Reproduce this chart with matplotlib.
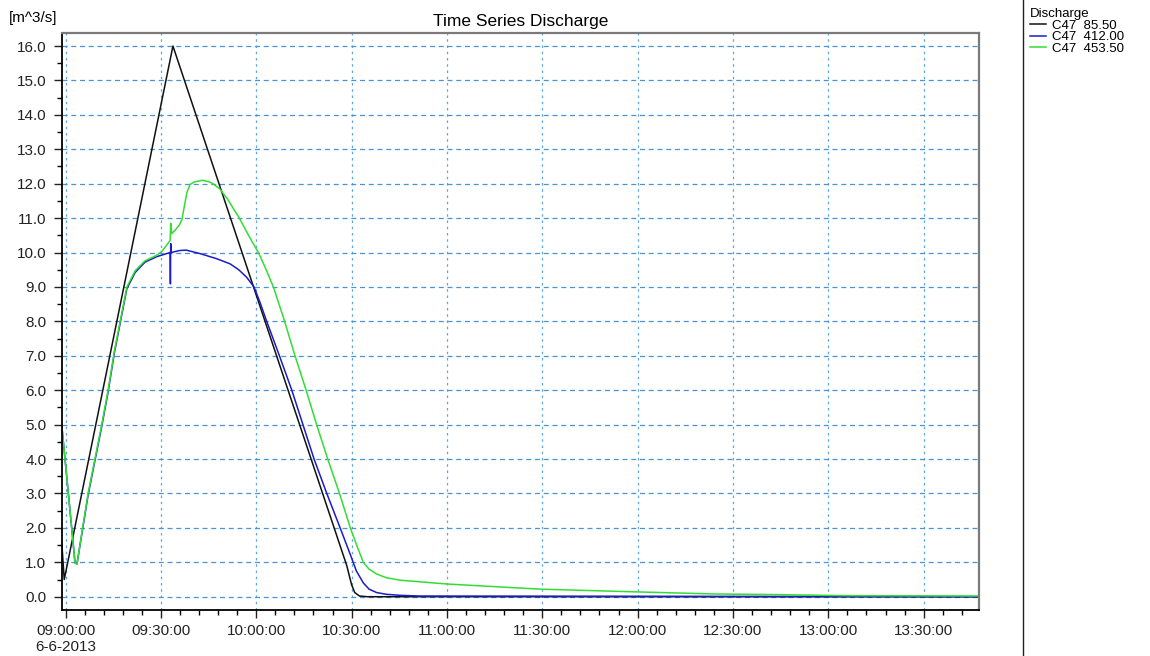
import pandas as pd
import matplotlib
matplotlib.use('Agg')
import matplotlib.pyplot as plt
import matplotlib.dates as mdates
from matplotlib.lines import Line2D
from matplotlib.ticker import MultipleLocator, FuncFormatter

plt.rcParams['font.family'] = ['Liberation Sans', 'DejaVu Sans']

START = pd.Timestamp('2013-06-06 09:00:00')

# time in minutes after 09:00, discharge in m^3/s
c47_85_t = [-1.2, -0.4, 33.8, 88.5, 90.0, 91.0, 92.5, 95.0, 287.4]
c47_85_q = [1.6, 0.5, 16.0, 0.9, 0.35, 0.12, 0.02, 0.0, 0.0]

c47_412_t = [-1.2, 3.0, 3.6, 7.1, 11.4, 13.4, 15.4, 17.2, 19.3, 21.9, 25.0, 28.7,
             32.9, 33.0, 33.1, 33.2, 36.0, 38.0, 42.3, 47.6, 51.8, 54.5, 57.0,
             59.3, 61.2, 63.3, 67.3, 71.2, 74.7, 78.2, 82.2, 86.4, 89.5, 91.5,
             93.7, 95.5, 97.9, 101.0, 105.3, 111.5, 287.4]
c47_412_q = [5.0, 0.98, 0.95, 2.95, 4.95, 5.95, 7.1, 7.95, 8.95, 9.42, 9.72, 9.88,
             10.0, 9.09, 10.26, 10.0, 10.06, 10.07, 9.97, 9.82, 9.67, 9.5, 9.28,
             9.0, 8.55, 8.0, 7.0, 6.0, 5.0, 4.0, 3.0, 2.0, 1.25, 0.75,
             0.40, 0.22, 0.12, 0.07, 0.04, 0.02, 0.0]

c47_453_t = [-1.2, 3.0, 3.6, 7.1, 11.4, 13.4, 15.4, 17.2, 19.3, 21.9, 25.0, 28.7,
             30.5, 32.9, 33.1, 33.4, 34.5, 35.8, 36.6, 37.3, 38.2, 39.2, 40.5,
             43.0, 45.0, 46.4, 48.5, 51.0, 53.0, 54.7, 57.0, 58.8, 60.7, 62.9,
             65.4, 68.6, 72.2, 75.7, 79.0, 82.5, 86.2, 89.6, 92.0, 93.7, 95.5,
             97.9, 101.0, 105.3, 119.9, 149.3, 179.7, 203.8, 224.8, 245.9, 287.4]
c47_453_q = [5.0, 0.98, 0.95, 3.0, 5.0, 6.0, 7.15, 8.0, 9.0, 9.47, 9.76, 9.92,
             10.05, 10.35, 10.85, 10.55, 10.65, 10.8, 10.95, 11.3, 11.75, 11.98, 12.05,
             12.1, 12.06, 12.0, 11.85, 11.55, 11.25, 11.0, 10.6, 10.3, 10.0, 9.55,
             9.0, 8.1, 7.0, 6.0, 5.0, 4.0, 3.0, 2.0, 1.4, 1.0, 0.8,
             0.66, 0.55, 0.48, 0.37, 0.22, 0.14, 0.08, 0.06, 0.03, 0.02]

labels = ['C47  85.50', 'C47  412.00', 'C47  453.50']
colors = ['#111111', '#1c1cc8', '#33dd33']


def to_time(mins):
    return (START + pd.to_timedelta(mins, unit='m')).values


def fmt_time(x, pos):
    d = mdates.num2date(x + 0.5 / 86400)
    s = d.strftime('%H:%M:%S')
    if d.hour == 9 and d.minute == 0:
        s += '\n6-6-2013'
    return s


fig = plt.figure(figsize=(11.5, 6.56), dpi=100)
ax = fig.add_axes([61.7 / 1150, 1 - 610 / 656, (979 - 61.7) / 1150, (610 - 33.3) / 656])

series = [(c47_85_t, c47_85_q), (c47_412_t, c47_412_q), (c47_453_t, c47_453_q)]
handles = []
for (t, q), lab, col in zip(series, labels, colors):
    ln, = ax.plot(to_time(t), q, color=col, lw=1.1, label=lab)
    handles.append(ln)

ax.set_xlim(to_time([-1.2])[0], to_time([287.4])[0])
ax.set_ylim(-0.386, 16.37)

ax.xaxis.set_major_locator(mdates.MinuteLocator(byminute=[0, 30]))
ax.xaxis.set_minor_locator(mdates.MinuteLocator(byminute=range(0, 60, 6)))
ax.xaxis.set_major_formatter(FuncFormatter(fmt_time))
ax.yaxis.set_major_locator(MultipleLocator(1.0))
ax.yaxis.set_minor_locator(MultipleLocator(0.5))
ax.yaxis.set_major_formatter(FuncFormatter(lambda v, p: f'{v:.1f}'))

ax.tick_params(axis='both', which='major', length=6, width=1, labelsize=11,
               colors='#222222', pad=4)
ax.tick_params(axis='both', which='minor', length=3.5, width=1)
ax.tick_params(axis='y', which='major', pad=5)

ax.grid(True, axis='y', which='major', color='#4a94d4', lw=0.9, ls=(0, (4, 3)))
ax.grid(True, axis='x', which='major', color='#5aa8e0', lw=0.9, ls=(0, (2, 3)))

for side in ['left', 'bottom']:
    ax.spines[side].set_color('#000000')
    ax.spines[side].set_linewidth(1.3)
for side in ['top', 'right']:
    ax.spines[side].set_color('#7a7a7a')
    ax.spines[side].set_linewidth(1.6)

ax.set_title('Time Series Discharge', fontsize=12.5, pad=5)
fig.text(9 / 1150, 1 - 18 / 656, '[m^3/s]', fontsize=11, va='center', ha='left')

# separator in front of the legend panel
fig.add_artist(Line2D([1022.5 / 1150] * 2, [0, 1], transform=fig.transFigure,
                      color='#222222', lw=1.0))

fig.legend(handles=handles, loc='upper left', bbox_to_anchor=(1030 / 1150, 1 - 8 / 656),
           title='Discharge', frameon=False, fontsize=9.5, title_fontsize=9.5,
           alignment='left', handlelength=1.2, handletextpad=0.5,
           labelspacing=-0.05, borderpad=0, borderaxespad=0)

fig.savefig('out.png', dpi=100)
